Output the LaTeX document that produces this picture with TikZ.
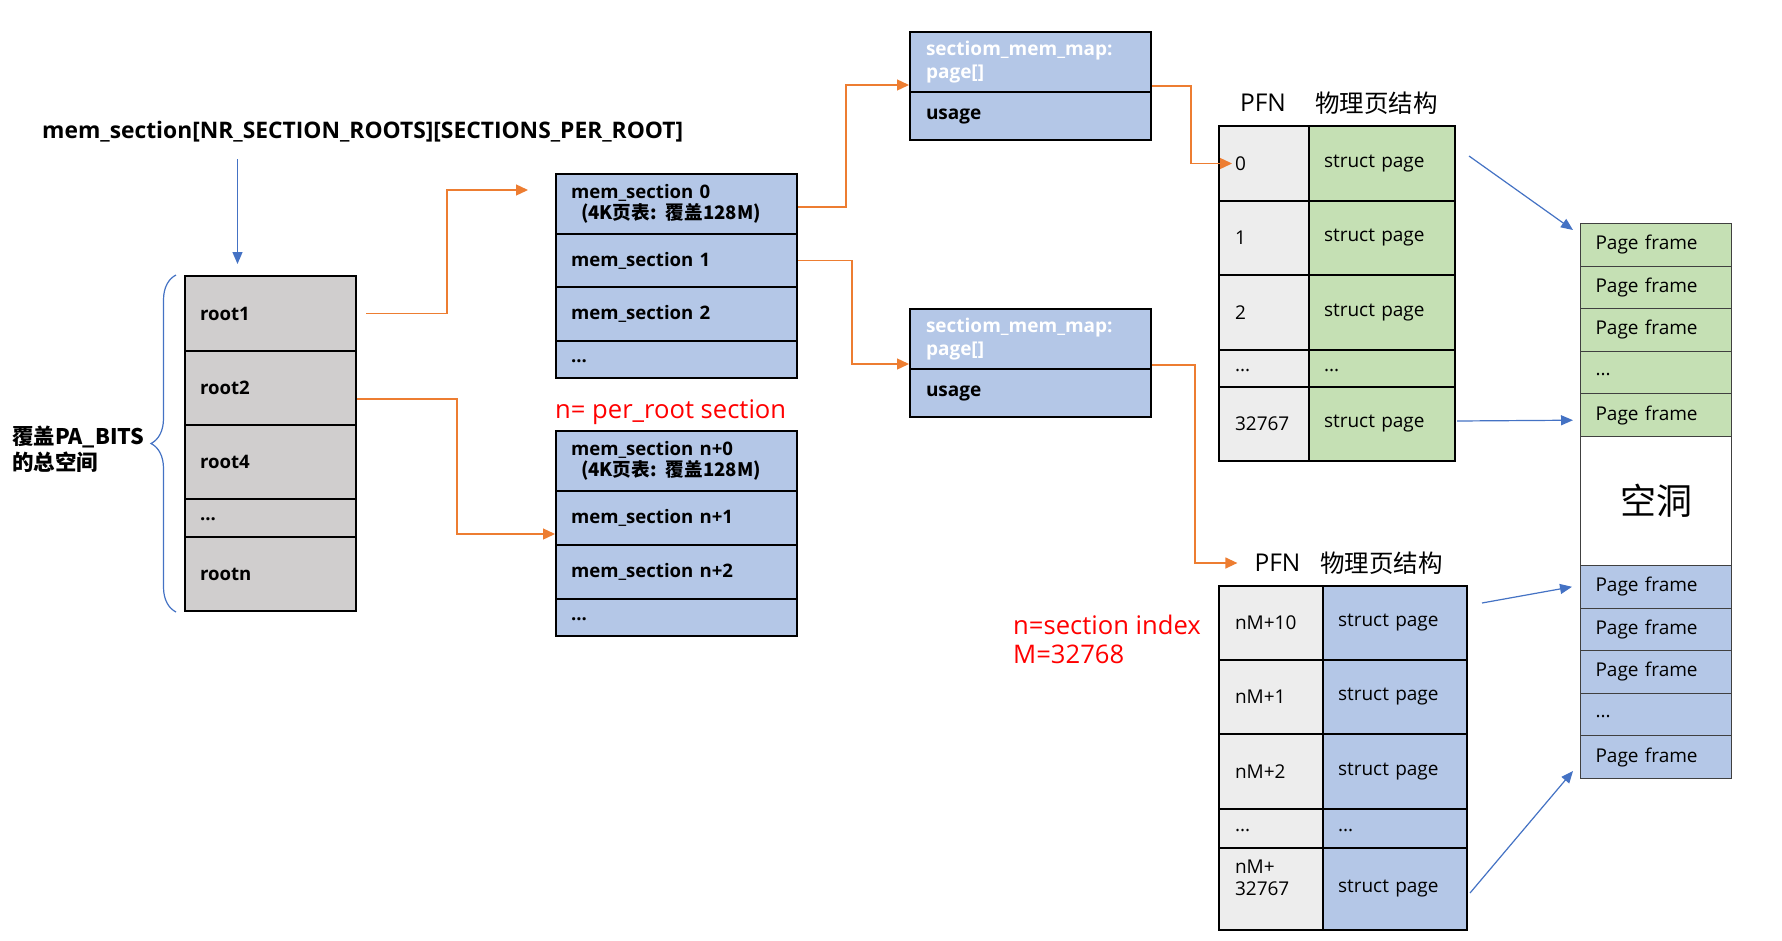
\documentclass[tikz,border=0pt]{standalone}
\usepackage{fontspec}
\setmainfont{Open Sans}
\newfontfamily\cjk{Noto Sans CJK SC}
\usetikzlibrary{arrows.meta,calc,decorations.pathreplacing}
\definecolor{rootgray}{HTML}{D0CECE}
\definecolor{secblue}{HTML}{B4C7E7}
\definecolor{pggreen}{HTML}{C5E0B4}
\definecolor{pfngray}{HTML}{EDEDED}
\definecolor{pfborder}{HTML}{404040}
\definecolor{orline}{HTML}{ED7D31}
\definecolor{bline}{HTML}{4472C4}
\definecolor{redtxt}{HTML}{FF0000}
\newcommand\myfTitle{\fontsize{22.8}{26}\selectfont\bfseries}
\newcommand\myfB{\fontsize{18.6}{21.6}\selectfont\bfseries}
\newcommand\myfS{\fontsize{19}{23}\selectfont\bfseries}
\newcommand\myfR{\fontsize{19}{22}\selectfont}
\newcommand\myfHdr{\fontsize{24.5}{28}\selectfont}
\newcommand\myfRed{\fontsize{25.6}{29}\selectfont}
\newcommand\myfHole{\fontsize{36}{40}\selectfont\cjk}
\newcommand\myfLbl{\fontsize{21.5}{26.5}\selectfont\cjk\bfseries}
\newcommand\cellat[6]{\node[#1, minimum height=#5pt] (#2) at (#3,#4) {#6};}
\newcommand\mydots{\rule{0pt}{6pt}...}
\tikzset{
 cellbase/.style={draw=black, line width=2pt, rectangle, anchor=north west, inner ysep=0pt, align=left},
 rootcell/.style={cellbase, fill=rootgray, minimum width=171pt, text width=141pt, inner xsep=15pt, font=\myfB},
 mscell/.style={cellbase, fill=secblue, minimum width=241pt, text width=211pt, inner xsep=15pt, font=\myfB},
 smmcell/.style={cellbase, fill=secblue, minimum width=241pt, text width=209pt, inner xsep=16pt, font=\myfS},
 pfnA/.style={cellbase, fill=pfngray, minimum width=90pt, text width=58pt, inner xsep=16pt, font=\myfR},
 pgA/.style={cellbase, fill=pggreen, minimum width=146pt, text width=116pt, inner xsep=15pt, font=\myfR},
 pfnB/.style={cellbase, fill=pfngray, minimum width=104pt, text width=72pt, inner xsep=16pt, font=\myfR},
 pgB/.style={cellbase, fill=secblue, minimum width=144pt, text width=114pt, inner xsep=15pt, font=\myfR},
 pfcell/.style={draw=pfborder, line width=1pt, rectangle, anchor=north west, inner ysep=0pt, align=left, minimum width=151pt, text width=121pt, inner xsep=15pt, font=\myfR},
 pfgreen/.style={pfcell, fill=pggreen},
 pfblue/.style={pfcell, fill=secblue},
 holecell/.style={pfcell, fill=white, align=center, font=\myfHole},
 plaintext/.style={inner sep=0pt},
 orarrow/.style={draw=orline, line width=1.3pt, -{Triangle[length=12pt,width=11pt]}},
 barrow/.style={draw=bline, line width=1.2pt, -{Triangle[length=12pt,width=10pt]}},
 bracestyle/.style={draw=bline, line width=1.2pt, decorate, decoration={brace, amplitude=25pt}},
}
\begin{document}
\begin{tikzpicture}[x=1pt,y=-1pt]
\fill[white] (0,0) rectangle (1782,940);
\useasboundingbox (0,0) rectangle (1782,940);

% title
\node[plaintext, anchor=west, font=\myfTitle] (title) at (42,132) {mem\_section[NR\_SECTION\_ROOTS][SECTIONS\_PER\_ROOT]};

% roots
\cellat{rootcell}{root1}{184}{275}{75}{root1}
\cellat{rootcell}{root2}{184}{350}{74}{root2}
\cellat{rootcell}{root4}{184}{424}{74}{root4}
\cellat{rootcell}{rootd}{184}{498}{38}{\mydots}
\cellat{rootcell}{rootn}{184}{536}{74}{rootn}

% left label
\node[plaintext, anchor=west, align=left, font=\myfLbl] (palbl) at (12,449) {覆盖PA\_BITS\\的总空间};

% mem_section group A
\cellat{mscell}{ms0}{555}{173}{60}{mem\_section 0\\\hspace*{10pt}{\cjk (4K页表: 覆盖128M)}}
\cellat{mscell}{ms1}{555}{233}{53}{mem\_section 1}
\cellat{mscell}{ms2}{555}{286}{54}{mem\_section 2}
\cellat{mscell}{msd}{555}{340}{37}{\mydots}

\node[plaintext, anchor=west, text=redtxt, font=\myfRed] (nlbl) at (555,412) {n= per\_root section};

% mem_section group B
\cellat{mscell}{msn0}{555}{430}{60}{mem\_section n+0\\\hspace*{10pt}{\cjk (4K页表: 覆盖128M)}}
\cellat{mscell}{msn1}{555}{490}{54}{mem\_section n+1}
\cellat{mscell}{msn2}{555}{544}{54}{mem\_section n+2}
\cellat{mscell}{msnd}{555}{598}{37}{\mydots}

% sectiom_mem_map boxes
\cellat{smmcell}{smm1a}{909}{31}{60}{\textcolor{white}{sectiom\_mem\_map:\\page[]}}
\cellat{smmcell}{smm1b}{909}{91}{48}{usage}
\cellat{smmcell}{smm2a}{909}{308}{60}{\textcolor{white}{sectiom\_mem\_map:\\page[]}}
\cellat{smmcell}{smm2b}{909}{368}{48}{usage}

% PFN table 1
\node[plaintext, font=\myfHdr] (pfn1) at (1263,103) {PFN};
\node[plaintext, font=\myfHdr\cjk] (pst1) at (1376.5,103) {物理页结构};
\cellat{pfnA}{t1r0p}{1218}{125}{75}{0}
\cellat{pgA}{t1r0s}{1308}{125}{75}{struct page}
\cellat{pfnA}{t1r1p}{1218}{200}{74}{1}
\cellat{pgA}{t1r1s}{1308}{200}{74}{struct page}
\cellat{pfnA}{t1r2p}{1218}{274}{75}{2}
\cellat{pgA}{t1r2s}{1308}{274}{75}{struct page}
\cellat{pfnA}{t1r3p}{1218}{349}{37}{\mydots}
\cellat{pgA}{t1r3s}{1308}{349}{37}{\mydots}
\cellat{pfnA}{t1r4p}{1218}{386}{74}{32767}
\cellat{pgA}{t1r4s}{1308}{386}{74}{struct page}

% PFN table 2
\node[plaintext, font=\myfHdr] (pfn2) at (1277.5,563) {PFN};
\node[plaintext, font=\myfHdr\cjk] (pst2) at (1381.5,563) {物理页结构};
\node[plaintext, anchor=west, align=left, text=redtxt, font=\myfRed] (idxlbl) at (1013,639) {n=section index\\M=32768};
\cellat{pfnB}{t2r0p}{1218}{585}{74}{nM+10}
\cellat{pgB}{t2r0s}{1322}{585}{74}{struct page}
\cellat{pfnB}{t2r1p}{1218}{659}{74}{nM+1}
\cellat{pgB}{t2r1s}{1322}{659}{74}{struct page}
\cellat{pfnB}{t2r2p}{1218}{733}{75}{nM+2}
\cellat{pgB}{t2r2s}{1322}{733}{75}{struct page}
\cellat{pfnB}{t2r3p}{1218}{808}{39}{\mydots}
\cellat{pgB}{t2r3s}{1322}{808}{39}{\mydots}
\cellat{pfnB}{t2r4p}{1218}{847}{82}{nM+\\32767\\\mbox{}}
\cellat{pgB}{t2r4s}{1322}{847}{82}{struct page}

% page frames
\cellat{pfgreen}{pf1}{1580}{223}{42.6}{Page frame}
\cellat{pfgreen}{pf2}{1580}{265.6}{42.6}{Page frame}
\cellat{pfgreen}{pf3}{1580}{308.2}{42.6}{Page frame}
\cellat{pfgreen}{pf4}{1580}{350.8}{42.6}{\mydots}
\cellat{pfgreen}{pf5}{1580}{393.4}{42.6}{Page frame}
\cellat{holecell}{hole}{1580}{436}{129}{空洞}
\cellat{pfblue}{pf6}{1580}{565}{42.6}{Page frame}
\cellat{pfblue}{pf7}{1580}{607.6}{42.6}{Page frame}
\cellat{pfblue}{pf8}{1580}{650.2}{42.6}{Page frame}
\cellat{pfblue}{pf9}{1580}{692.8}{42.6}{\mydots}
\cellat{pfblue}{pf10}{1580}{735.4}{42.6}{Page frame}

% brace
\draw[bracestyle] ($(rootn.south west)+(-8,0)$) -- ($(root1.north west)+(-8,0)$);

% title arrow
\coordinate (tarr) at (237.5,159);
\draw[barrow] (tarr) -- ($(tarr |- root1.north)+(0,-11)$);

% orange connectors
\draw[orarrow] ($(root1.east)+(9,0)$) -| ($(ms0.west)+(-108,-14)$) -- ($(ms0.west)+(-27,-14)$);
\draw[orarrow] ($(root2.east)+(0,11)$) -- ++(100,0) |- ($(msn1.west)+(0,16)$);
\draw[orarrow] ($(ms0.east)+(0,3)$) -- ++(48,0) |- ($(smm1a.west)+(0,23)$);
\draw[orarrow] (ms1.east) -- ++(54,0) |- ($(smm2a.west)+(0,25)$);
\draw[orarrow] ($(smm1a.east)+(0,24)$) -- ++(39,0) |- ($(t1r0p.west)+(14,0)$);
\draw[orarrow] ($(smm2a.east)+(0,26)$) -- ++(43,0) |- ($(pfn2.west)+(-17,0)$);

% blue connectors
\draw[barrow] ($(t1r0s.east)+(13,-7.5)$) -- ($(pf1.north west)+(-7,7)$);
\draw[barrow] ($(t1r4s.east)+(1,-3)$) -- ($(pf5.west)+(-7,5)$);
\draw[barrow] ($(t2r0s.east)+(14,-20)$) -- ($(pf6.west)+(-8,0)$);
\draw[barrow] ($(t2r4s.east)+(2,4)$) -- ($(pf10.south west)+(-7,-8)$);
\end{tikzpicture}
\end{document}
